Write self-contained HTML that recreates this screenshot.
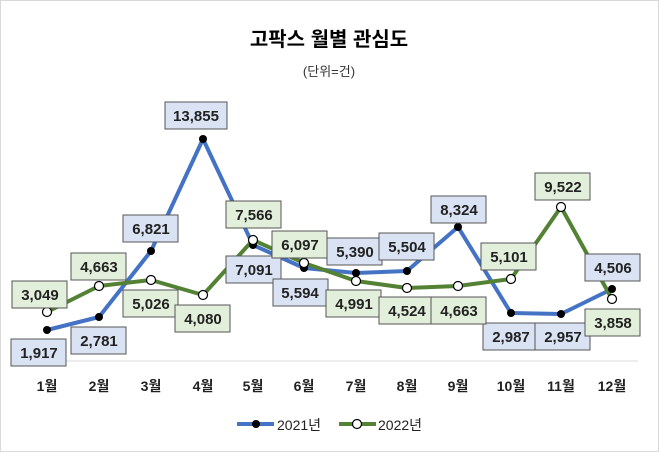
<!DOCTYPE html>
<html><head><meta charset="utf-8"><style>
body{margin:0;background:#fff}
svg{display:block;font-family:"Liberation Sans","Noto Sans CJK KR",sans-serif}
.l text{font-weight:bold;font-size:15px;fill:#222;text-anchor:middle}
</style></head><body>
<svg width="659" height="452" viewBox="0 0 659 452">
<rect x="0.5" y="0.5" width="658" height="451" fill="#fff" stroke="#d9d9d9"/>
<text x="329" y="46" font-size="20" font-weight="bold" text-anchor="middle" fill="#000">고팍스 월별 관심도</text>
<text x="329" y="76" font-size="13" text-anchor="middle" fill="#333">(단위=건)</text>
<line x1="22" y1="361" x2="638" y2="361" stroke="#d9d9d9"/>
<g font-size="14" font-weight="bold" text-anchor="middle" fill="#222">
<text x="47" y="391">1월</text><text x="99" y="391">2월</text><text x="151" y="391">3월</text><text x="203" y="391">4월</text><text x="253" y="391">5월</text><text x="304" y="391">6월</text><text x="356" y="391">7월</text><text x="407" y="391">8월</text><text x="458" y="391">9월</text><text x="511" y="391">10월</text><text x="561" y="391">11월</text><text x="612" y="391">12월</text>
</g>
<polyline fill="none" stroke="#4472c4" stroke-width="4" stroke-linejoin="round" points="47,330 99,317 151,251 203,139 253,245 304,268 356,273 407,271 458,227 511,313 561,314 612,289"/>
<polyline fill="none" stroke="#548235" stroke-width="4" stroke-linejoin="round" points="47,312 99,286 151,280 203,295 253,240 304,263 356,281 407,288 458,286 511,279 561,207 612,299"/>
<g fill="#000">
<circle cx="47" cy="330" r="4"/><circle cx="99" cy="317" r="4"/><circle cx="151" cy="251" r="4"/><circle cx="203" cy="139" r="4"/><circle cx="253" cy="245" r="4"/><circle cx="304" cy="268" r="4"/><circle cx="356" cy="273" r="4"/><circle cx="407" cy="271" r="4"/><circle cx="458" cy="227" r="4"/><circle cx="511" cy="313" r="4"/><circle cx="561" cy="314" r="4"/><circle cx="612" cy="289" r="4"/>
</g>
<g fill="#fff" stroke="#000" stroke-width="1.2">
<circle cx="47" cy="312" r="4.5"/><circle cx="99" cy="286" r="4.5"/><circle cx="151" cy="280" r="4.5"/><circle cx="203" cy="295" r="4.5"/><circle cx="253" cy="240" r="4.5"/><circle cx="304" cy="263" r="4.5"/><circle cx="356" cy="281" r="4.5"/><circle cx="407" cy="288" r="4.5"/><circle cx="458" cy="286" r="4.5"/><circle cx="511" cy="279" r="4.5"/><circle cx="561" cy="207" r="4.5"/><circle cx="612" cy="299" r="4.5"/>
</g>
<g class="l" stroke="#555" stroke-width="1">
<g fill="#dae3f3">
<rect x="11" y="339" width="55" height="27"/><rect x="71" y="327" width="55" height="27"/><rect x="123" y="215" width="55" height="27"/><rect x="165" y="102" width="62" height="27"/><rect x="226" y="256" width="55" height="27"/><rect x="273" y="279" width="55" height="27"/><rect x="327" y="238" width="55" height="27"/><rect x="379" y="233" width="55" height="27"/><rect x="431" y="196" width="55" height="27"/><rect x="483" y="323" width="55" height="27"/><rect x="535" y="323" width="55" height="27"/><rect x="585" y="254" width="55" height="27"/>
</g>
<g fill="#e2efda">
<rect x="12" y="281" width="55" height="27"/><rect x="71" y="253" width="55" height="27"/><rect x="123" y="290" width="55" height="27"/><rect x="175" y="305" width="55" height="27"/><rect x="226" y="201" width="55" height="27"/><rect x="272" y="231" width="55" height="27"/><rect x="326" y="290" width="55" height="27"/><rect x="379" y="297" width="55" height="27"/><rect x="431" y="297" width="55" height="27"/><rect x="481" y="243" width="55" height="27"/><rect x="535" y="173" width="55" height="27"/><rect x="585" y="309" width="55" height="27"/>
</g>
<g stroke="none">
<text x="39" y="358">1,917</text><text x="99" y="346">2,781</text><text x="151" y="234">6,821</text><text x="196" y="121">13,855</text><text x="254" y="275">7,091</text><text x="300" y="298">5,594</text><text x="355" y="257">5,390</text><text x="407" y="252">5,504</text><text x="459" y="215">8,324</text><text x="511" y="342">2,987</text><text x="563" y="342">2,957</text><text x="613" y="273">4,506</text>
<text x="40" y="300">3,049</text><text x="99" y="272">4,663</text><text x="151" y="309">5,026</text><text x="203" y="324">4,080</text><text x="254" y="220">7,566</text><text x="300" y="250">6,097</text><text x="354" y="309">4,991</text><text x="407" y="316">4,524</text><text x="459" y="316">4,663</text><text x="509" y="262">5,101</text><text x="563" y="192">9,522</text><text x="613" y="328">3,858</text>
</g>
</g>
<line x1="237" y1="424" x2="274" y2="424" stroke="#4472c4" stroke-width="4"/>
<circle cx="256" cy="424" r="4" fill="#000"/>
<text x="277" y="430" font-size="14" fill="#222">2021년</text>
<line x1="339" y1="424" x2="376" y2="424" stroke="#548235" stroke-width="4"/>
<circle cx="357" cy="424" r="4.5" fill="#fff" stroke="#000" stroke-width="1.2"/>
<text x="378" y="430" font-size="14" fill="#222">2022년</text>
</svg>
</body></html>
